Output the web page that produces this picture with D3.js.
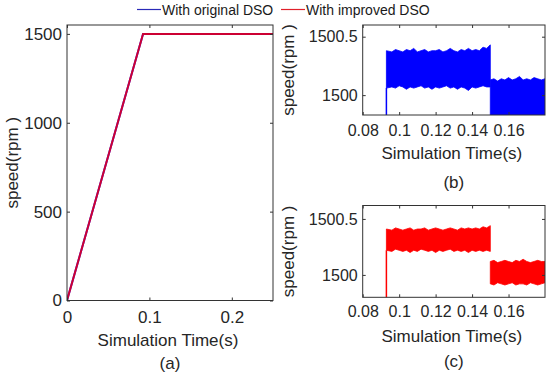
<!DOCTYPE html>
<html>
  <head>
    <meta charset="utf-8" />
    <script src="https://d3js.org/d3.v7.min.js"></script>
    <style>
      body { margin: 0; background: #fff; }
      svg { font-family: Arial, "Liberation Sans", sans-serif; }
      .axis text { fill: #262626; font-size: 16px; }
      .big .axis text { font-size: 17px; }
      .axis path { display: none; }
      .axis line { stroke: #333; }
      .frame { fill: none; stroke: #333; stroke-width: 1; }
      .ttl { fill: #262626; font-size: 17px; }
    </style>
  </head>
  <body>
    <div id="master"></div>
    <script type="text/javascript">
// ---- data ----
var legendNames = ["With original DSO", "With improved DSO"];

// (a) full run, both controllers nearly identical
var timeA = [0, 0.0923, 0.25];
var speedOrigA = [0, 1500, 1500];
var speedImpA = [0, 1500, 1500];

// (b),(c) zoom: envelope of the ripple band
var stepTime = 0.093;
var phase1Time = [0.093, 0.096, 0.098, 0.100, 0.102, 0.104, 0.106, 0.108, 0.110, 0.112, 0.114, 0.116, 0.118, 0.120, 0.122,
  0.124, 0.126, 0.128, 0.130, 0.132, 0.134, 0.136, 0.138, 0.140, 0.142, 0.144, 0.146, 0.148, 0.150];
var phase2Time = [0.150, 0.152, 0.154, 0.156, 0.158, 0.160, 0.162, 0.164, 0.166, 0.168, 0.170, 0.172, 0.174, 0.176, 0.178, 0.180];

var origUp1 = [1500.38, 1500.37, 1500.39, 1500.38, 1500.37, 1500.39, 1500.38, 1500.40, 1500.37, 1500.38, 1500.39, 1500.37, 1500.38, 1500.38, 1500.39,
  1500.37, 1500.38, 1500.40, 1500.38, 1500.37, 1500.39, 1500.38, 1500.40, 1500.38, 1500.39, 1500.38, 1500.41, 1500.40, 1500.43];
var origLo1 = [1500.06, 1500.07, 1500.06, 1500.08, 1500.07, 1500.05, 1500.07, 1500.06, 1500.07, 1500.08, 1500.06, 1500.07, 1500.05, 1500.07, 1500.06,
  1500.07, 1500.08, 1500.06, 1500.07, 1500.05, 1500.07, 1500.06, 1500.04, 1500.07, 1500.06, 1500.07, 1500.08, 1500.07, 1500.07];
var origUp2 = [1500.13, 1500.14, 1500.12, 1500.14, 1500.13, 1500.15, 1500.13, 1500.14, 1500.16, 1500.13, 1500.14, 1500.13, 1500.15, 1500.14, 1500.13, 1500.14];
var origLo2 = [1499.80, 1499.80, 1499.80, 1499.80, 1499.80, 1499.80, 1499.80, 1499.80, 1499.80, 1499.80, 1499.80, 1499.80, 1499.80, 1499.80, 1499.80, 1499.80];

var impUp1 = [1500.41, 1500.40, 1500.42, 1500.41, 1500.40, 1500.41, 1500.42, 1500.40, 1500.41, 1500.41, 1500.42, 1500.40, 1500.41, 1500.42, 1500.41,
  1500.40, 1500.41, 1500.42, 1500.41, 1500.40, 1500.42, 1500.41, 1500.42, 1500.41, 1500.42, 1500.41, 1500.43, 1500.42, 1500.44];
var impLo1 = [1500.22, 1500.21, 1500.23, 1500.22, 1500.21, 1500.22, 1500.20, 1500.22, 1500.21, 1500.23, 1500.22, 1500.21, 1500.22, 1500.20, 1500.22,
  1500.21, 1500.22, 1500.23, 1500.21, 1500.22, 1500.21, 1500.22, 1500.20, 1500.22, 1500.21, 1500.22, 1500.21, 1500.22, 1500.21];
var impUp2 = [1500.12, 1500.13, 1500.11, 1500.12, 1500.13, 1500.12, 1500.11, 1500.13, 1500.12, 1500.14, 1500.12, 1500.11, 1500.12, 1500.13, 1500.12, 1500.12];
var impLo2 = [1499.92, 1499.91, 1499.93, 1499.92, 1499.91, 1499.92, 1499.93, 1499.91, 1499.92, 1499.92, 1499.91, 1499.93, 1499.92, 1499.91, 1499.92, 1499.93];

var xTicksA = [0, 0.1, 0.2];
var yTicksA = [0, 500, 1000, 1500];
var xTicksZoom = [0.08, 0.1, 0.12, 0.14, 0.16];
var yTicksZoom = [1500, 1500.5];

// ---- drawing ----
var width = 550, height = 377;
var svg = d3.select("#master").append("svg")
  .attr("width", width)
  .attr("height", height);

var fmt = function(d) { return String(+d.toFixed(3)); };

function makePanel(id, box, xDom, yDom, xTicks, yTicks, xLabelY, titleY, tagY, tag, ylabX) {
  var x = d3.scaleLinear().domain(xDom).range([box.x0, box.x1]);
  var y = d3.scaleLinear().domain(yDom).range([box.y1, box.y0]);
  var root = svg.append("g").attr("id", "panel" + id);
  if (id === "a") root.attr("class", "big");

  root.append("clipPath").attr("id", "clip" + id)
    .append("rect")
      .attr("x", box.x0).attr("y", box.y0)
      .attr("width", box.x1 - box.x0).attr("height", box.y1 - box.y0);

  var g = root.append("g").attr("clip-path", "url(#clip" + id + ")");

  // axes, ticks pointing inward (matlab style)
  root.append("g").attr("class", "axis")
    .attr("transform", "translate(0," + box.y1 + ")")
    .call(d3.axisBottom(x).tickValues(xTicks).tickSizeInner(-3).tickSizeOuter(0).tickPadding(xLabelY).tickFormat(fmt));
  root.append("g").attr("class", "axis")
    .attr("transform", "translate(0," + box.y0 + ")")
    .call(d3.axisTop(x).tickValues(xTicks).tickSizeInner(-3).tickSizeOuter(0).tickFormat(""));
  root.append("g").attr("class", "axis")
    .attr("transform", "translate(" + box.x0 + ",0)")
    .call(d3.axisLeft(y).tickValues(yTicks).tickSizeInner(-3).tickSizeOuter(0).tickPadding(5).tickFormat(fmt));
  root.append("g").attr("class", "axis")
    .attr("transform", "translate(" + box.x1 + ",0)")
    .call(d3.axisRight(y).tickValues(yTicks).tickSizeInner(-3).tickSizeOuter(0).tickFormat(""));

  root.append("rect").attr("class", "frame")
    .attr("x", box.x0).attr("y", box.y0)
    .attr("width", box.x1 - box.x0).attr("height", box.y1 - box.y0);

  var cx = (box.x0 + box.x1) / 2;
  root.append("text").attr("class", "ttl")
    .attr("x", cx - 2).attr("y", titleY)
    .attr("text-anchor", "middle").attr("dominant-baseline", "central")
    .text("Simulation Time(s)");
  root.append("text").attr("class", "ttl")
    .attr("x", cx).attr("y", tagY)
    .attr("text-anchor", "middle").attr("dominant-baseline", "central")
    .text(tag);
  root.append("text").attr("class", "ttl")
    .attr("transform", "translate(" + ylabX + "," + ((box.y0 + box.y1) / 2) + ") rotate(-90)")
    .attr("text-anchor", "middle").attr("dominant-baseline", "central")
    .text("speed(rpm )");

  return { g: g, x: x, y: y };
}

// (a)
var pa = makePanel("a", { x0: 67, x1: 273, y0: 25, y1: 300.5 }, [0, 0.25], [0, 1550],
  xTicksA, yTicksA, 10, 340, 363, "(a)", 12);
var lineA = d3.line().x(function(d) { return pa.x(d[0]); }).y(function(d) { return pa.y(d[1]); });
pa.g.append("path").datum(d3.zip(timeA, speedOrigA))
  .attr("d", lineA).attr("fill", "none").attr("stroke", "#0000ff").attr("stroke-width", 2);
pa.g.append("path").datum(d3.zip(timeA, speedImpA))
  .attr("d", lineA).attr("fill", "none").attr("stroke", "#ff0000").attr("stroke-opacity", 0.8).attr("stroke-width", 2);

// (b), (c)
function drawBand(p, color, up1, lo1, up2, lo2, bottom) {
  var area = d3.area()
    .x(function(d) { return p.x(d[0]); })
    .y0(function(d) { return p.y(d[1]); })
    .y1(function(d) { return p.y(d[2]); });
  [d3.zip(phase1Time, lo1, up1), d3.zip(phase2Time, lo2, up2)].forEach(function(seg) {
    p.g.append("path").datum(seg)
      .attr("d", area).attr("fill", color)
      .attr("stroke", color).attr("stroke-width", 0.8);
  });
  // step from below the window at start
  p.g.append("line")
    .attr("x1", p.x(stepTime)).attr("x2", p.x(stepTime))
    .attr("y1", p.y(bottom)).attr("y2", p.y(lo1[0]))
    .attr("stroke", color).attr("stroke-width", 1.5);
}

var pb = makePanel("b", { x0: 362.7, x1: 545, y0: 25, y1: 115 }, [0.08, 0.18], [1499.83, 1500.6],
  xTicksZoom, yTicksZoom, 10, 153, 182, "(b)", 288);
drawBand(pb, "#0000ff", origUp1, origLo1, origUp2, origLo2, 1499.5);

var pc = makePanel("c", { x0: 362.7, x1: 545, y0: 205.5, y1: 297.3 }, [0.08, 0.18], [1499.8, 1500.62],
  xTicksZoom, yTicksZoom, 8, 336.5, 361.5, "(c)", 288);
drawBand(pc, "#ff0000", impUp1, impLo1, impUp2, impLo2, 1499.5);

// legend
var legend = [{ x: 137, color: "#2a2ab8" }, { x: 281, color: "#e0202a" }];
legend.forEach(function(d, i) {
  svg.append("line").attr("x1", d.x).attr("x2", d.x + 24).attr("y1", 9.5).attr("y2", 9.5)
    .attr("stroke", d.color).attr("stroke-width", 1.2);
  svg.append("text").attr("x", d.x + 25).attr("y", 10)
    .attr("dominant-baseline", "central").attr("fill", "#1a1a1a").style("font-size", "14px")
    .text(legendNames[i]);
});
    </script>
  </body>
</html>
